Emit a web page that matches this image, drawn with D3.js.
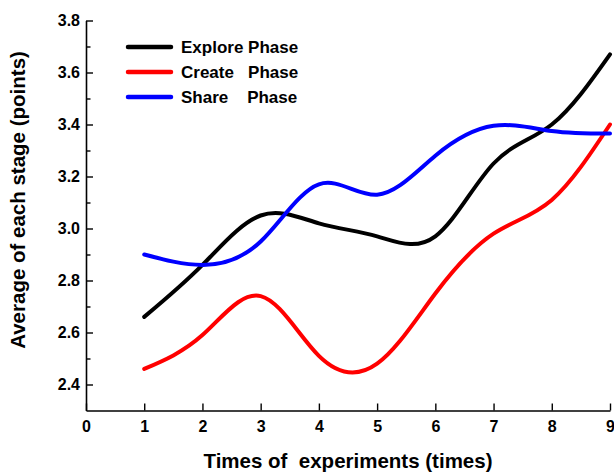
<!DOCTYPE html>
<html>
<head>
<meta charset="utf-8">
<script src="https://cdn.jsdelivr.net/npm/d3@7"></script>
<style>
  body { margin: 0; background: #fff; }
  svg text { font-family: Arial, "Liberation Sans", sans-serif; font-weight: bold; fill: #000; }
</style>
</head>
<body>
<div id="main"></div>
<script>
const ctx = {
    w: 614,
    h: 472,
    left: 86,
    right: 610,
    top: 20.5,
    bottom: 410.5,
};

// times of experiments
const TIMES = [1, 2, 3, 4, 5, 6, 7, 8, 9];
// average per stage
const EXPLORE = [2.66, 2.86, 3.05, 3.02, 2.97, 2.97, 3.25, 3.40, 3.67];
const CREATE = [2.46, 2.59, 2.74, 2.51, 2.48, 2.75, 2.98, 3.11, 3.40];
const SHARE = [2.90, 2.86, 2.95, 3.17, 3.13, 3.28, 3.395, 3.375, 3.365];

const SERIES_NAMES = ["Explore Phase", "Create   Phase", "Share    Phase"];
const SERIES_COLORS = ["#000000", "#ff0000", "#0000ff"];

const X_TICKS = [0, 1, 2, 3, 4, 5, 6, 7, 8, 9];
const Y_TICKS = [2.4, 2.6, 2.8, 3.0, 3.2, 3.4, 3.6, 3.8];
const Y_MINOR = [2.5, 2.7, 2.9, 3.1, 3.3, 3.5, 3.7];

function createViz() {
    let svgEl = d3.select("#main").append("svg")
        .attr("width", ctx.w)
        .attr("height", ctx.h);

    let x = d3.scaleLinear().domain([0, 9]).range([ctx.left, ctx.right]);
    let y = d3.scaleLinear().domain([2.3, 3.8]).range([ctx.bottom, ctx.top]);

    // y axis, ticks pointing inward
    let yAxisG = svgEl.append("g")
        .attr("transform", `translate(${ctx.left},0)`)
        .call(d3.axisLeft(y).tickValues(Y_TICKS).tickFormat(d3.format(".1f"))
            .tickSizeInner(-7).tickSizeOuter(0).tickPadding(6));
    svgEl.append("g")
        .attr("transform", `translate(${ctx.left},0)`)
        .call(d3.axisLeft(y).tickValues(Y_MINOR).tickFormat("")
            .tickSizeInner(-4.5).tickSizeOuter(0))
        .select(".domain").remove();
    yAxisG.selectAll("text").style("font-size", "16px");

    // x axis
    let xAxisG = svgEl.append("g")
        .attr("transform", `translate(0,${ctx.bottom})`)
        .call(d3.axisBottom(x).tickValues(X_TICKS).tickFormat(d3.format("d"))
            .tickSizeInner(-7).tickSizeOuter(0).tickPadding(10));
    xAxisG.selectAll("text").style("font-size", "16px");

    svgEl.selectAll(".domain").attr("stroke-width", 1.6);
    svgEl.selectAll(".tick line").attr("stroke-width", 1.4);

    // curves
    let line = d3.line()
        .x((d) => x(d[0]))
        .y((d) => y(d[1]))
        .curve(d3.curveNatural);
    [EXPLORE, CREATE, SHARE].forEach(function (vals, i) {
        svgEl.append("path")
            .datum(TIMES.map((t, j) => [t, vals[j]]))
            .attr("fill", "none")
            .attr("stroke", SERIES_COLORS[i])
            .attr("stroke-width", 4)
            .attr("stroke-linecap", "round")
            .attr("d", line);
    });

    // legend
    let legendG = svgEl.append("g").attr("transform", "translate(128,47)");
    SERIES_NAMES.forEach(function (name, i) {
        legendG.append("line")
            .attr("x1", 0).attr("x2", 43)
            .attr("y1", i * 25).attr("y2", i * 25)
            .attr("stroke", SERIES_COLORS[i])
            .attr("stroke-width", 4.5)
            .attr("stroke-linecap", "round");
        legendG.append("text")
            .attr("x", 53)
            .attr("y", i * 25 + 6)
            .attr("xml:space", "preserve")
            .style("white-space", "pre")
            .style("font-size", "17px")
            .text(name);
    });

    // axis titles
    svgEl.append("text")
        .attr("x", 348)
        .attr("y", 468)
        .attr("text-anchor", "middle")
        .attr("xml:space", "preserve")
        .style("white-space", "pre")
        .style("font-size", "20.5px")
        .text("Times of  experiments (times)");
    svgEl.append("text")
        .attr("transform", "translate(25,200) rotate(-90)")
        .attr("text-anchor", "middle")
        .style("font-size", "20.5px")
        .text("Average of each stage (points)");
}

createViz();
</script>
</body>
</html>
